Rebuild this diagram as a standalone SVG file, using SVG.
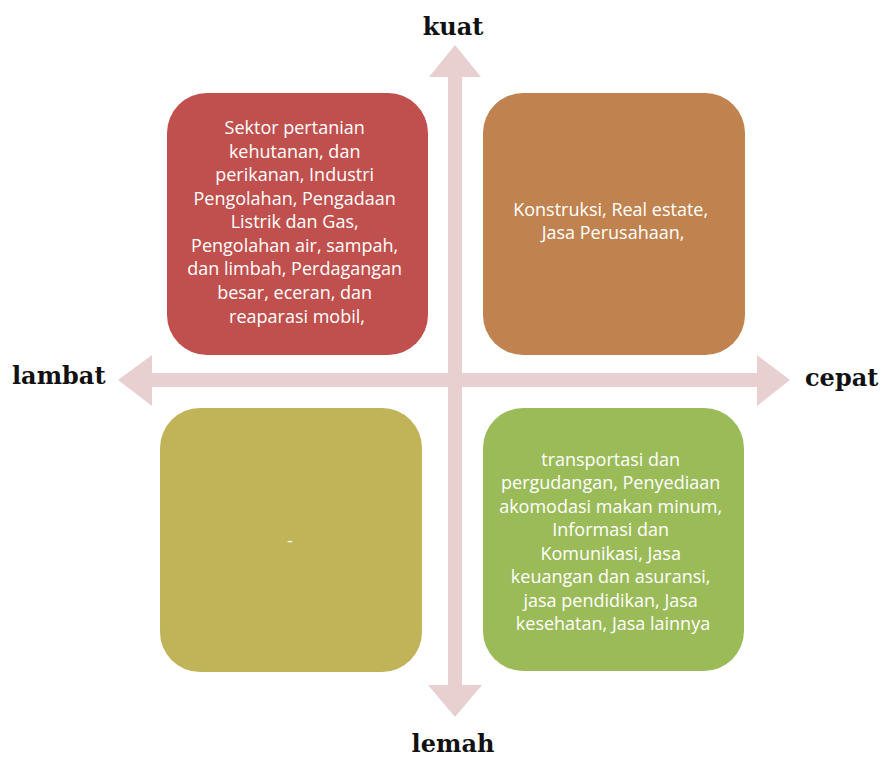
<svg xmlns="http://www.w3.org/2000/svg" width="884" height="761" viewBox="0 0 884 761">
  <style>
    .axis { fill: #e8d0d1; }
    .box { stroke: none; }
    .boxtext { font-family: "Open Sans", "Liberation Sans", sans-serif; font-size: 18px; fill: #ffffff; text-anchor: middle; }
    .label { font-family: "DejaVu Serif", "Liberation Serif", serif; font-weight: bold; font-size: 24px; fill: #111111; }
  </style>
  <rect width="884" height="761" fill="#ffffff"/>

  <!-- two crossing double-headed axes -->
  <g id="connectors">
    <path class="axis" d="M455,45 L481,77 L462,77 L462,685 L482,685 L455,717 L428,685 L448,685 L448,77 L429,77 Z"/>
    <path class="axis" d="M118,380 L152,355 L152,373 L757,373 L757,355 L790,380 L757,406 L757,387 L152,387 L152,406 Z"/>
  </g>

  <g id="q-kuat-lambat">
    <rect class="box" x="167" y="93" width="261" height="262" rx="40" fill="#c0504d"/>
    <text class="boxtext">
      <tspan x="297" y="134">Sektor pertanian</tspan>
      <tspan x="297" y="158">kehutanan, dan</tspan>
      <tspan x="297" y="181">perikanan, Industri</tspan>
      <tspan x="297" y="205">Pengolahan, Pengadaan</tspan>
      <tspan x="297" y="228">Listrik dan Gas,</tspan>
      <tspan x="297" y="252">Pengolahan air, sampah,</tspan>
      <tspan x="297" y="275">dan limbah, Perdagangan</tspan>
      <tspan x="297" y="299">besar, eceran, dan</tspan>
      <tspan x="297" y="323">reaparasi mobil,</tspan>
    </text>
  </g>

  <g id="q-kuat-cepat">
    <rect class="box" x="483" y="93" width="262" height="262" rx="40" fill="#c0834f"/>
    <text class="boxtext">
      <tspan x="613" y="216">Konstruksi, Real estate,</tspan>
      <tspan x="613" y="239">Jasa Perusahaan,</tspan>
    </text>
  </g>

  <g id="q-lemah-lambat">
    <rect class="box" x="160" y="408" width="262" height="264" rx="40" fill="#c0b358"/>
    <text class="boxtext" x="290" y="547">-</text>
  </g>

  <g id="q-lemah-cepat">
    <rect class="box" x="483" y="408" width="261" height="263" rx="40" fill="#9bbb59"/>
    <text class="boxtext">
      <tspan x="613" y="466">transportasi dan</tspan>
      <tspan x="613" y="489">pergudangan, Penyediaan</tspan>
      <tspan x="613" y="513">akomodasi makan minum,</tspan>
      <tspan x="613" y="536">Informasi dan</tspan>
      <tspan x="613" y="560">Komunikasi, Jasa</tspan>
      <tspan x="613" y="583">keuangan dan asuransi,</tspan>
      <tspan x="613" y="607">jasa pendidikan, Jasa</tspan>
      <tspan x="613" y="630">kesehatan, Jasa lainnya</tspan>
    </text>
  </g>

  <g id="axis-labels">
    <text class="label" x="453" y="35" text-anchor="middle">kuat</text>
    <text class="label" x="453" y="752" text-anchor="middle">lemah</text>
    <text class="label" x="12" y="384">lambat</text>
    <text class="label" x="805" y="386">cepat</text>
  </g>
</svg>
